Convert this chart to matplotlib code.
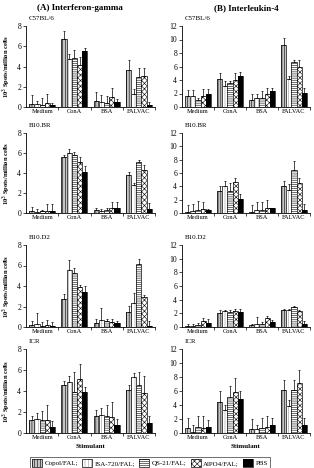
import matplotlib
matplotlib.use("Agg")
import matplotlib.pyplot as plt
import numpy as np
from matplotlib.patches import Patch

plt.rcParams["font.family"] = ["Liberation Serif", "DejaVu Serif"]
plt.rcParams["hatch.linewidth"] = 0.4

stimulants = ["Medium", "ConA", "BSA", "FALVAC"]
groups = ["Copol/FAL;", "ISA-720/FAL;", "QS-21/FAL;", "AlPO4/FAL;", "PBS"]
strains = ["C57BL/6", "B10.BR", "B10.D2", "ICR"]

# (A) interferon-gamma, rows = adjuvant group, cols = stimulant
ifn_c57 = [[0.25, 6.7, 0.6, 3.7], [0.3, 4.75, 0.5, 1.3], [0.2, 4.85, 0.35, 3.0],
           [0.35, 4.1, 0.95, 3.1], [0.2, 5.5, 0.45, 0.15]]
ifn_c57_err = [[0.95, 0.8, 0.85, 0.9], [0.3, 0.45, 0.7, 0.5], [0.65, 0.75, 0.75, 0.85],
               [0.95, 0.8, 0.95, 0.8], [0.2, 0.3, 0.3, 0.35]]
ifn_b10br = [[0.15, 5.6, 0.25, 3.75], [0.05, 6.0, 0.2, 2.8], [0.15, 5.8, 0.3, 5.05],
             [0.2, 5.1, 0.45, 4.3], [0.2, 4.1, 0.45, 0.35]]
ifn_b10br_err = [[0.45, 0.2, 0.2, 0.3], [0.35, 0.35, 0.2, 0.15], [0.15, 0.25, 0.2, 0.2],
                 [0.7, 0.5, 0.65, 0.5], [0.7, 0.6, 0.65, 0.6]]
ifn_b10d2 = [[0.15, 2.7, 0.35, 1.5], [0.25, 5.55, 0.7, 2.3], [0.1, 5.25, 0.55, 6.1],
             [0.15, 3.9, 0.5, 2.9], [0.1, 3.45, 0.35, 0.05]]
ifn_b10d2_err = [[0.4, 0.5, 0.45, 0.55], [1.1, 0.95, 1.15, 1.0], [0.35, 0.55, 0.2, 0.5],
                 [0.55, 0.2, 0.3, 0.2], [0.4, 0.55, 0.2, 0.5]]
ifn_icr = [[1.2, 4.55, 1.65, 4.1], [1.35, 4.9, 1.75, 5.3], [1.2, 3.95, 1.6, 4.55],
           [1.2, 5.1, 1.5, 3.85], [0.6, 3.9, 0.75, 1.0]]
ifn_icr_err = [[0.45, 0.45, 0.5, 0.5], [0.6, 0.5, 0.65, 0.45], [0.85, 1.85, 1.1, 1.3],
               [1.5, 1.5, 1.5, 1.55], [0.55, 0.45, 0.55, 0.6]]

# (B) interleukin-4
il4_c57 = [[1.6, 4.2, 1.1, 9.2], [1.6, 3.1, 1.4, 4.2], [1.0, 3.5, 1.4, 6.6],
           [1.6, 4.05, 1.9, 5.9], [2.0, 4.6, 2.3, 2.1]]
il4_c57_err = [[0.85, 0.8, 0.9, 1.0], [0.85, 0.7, 0.5, 0.4], [0.35, 0.4, 0.9, 0.4],
               [1.05, 1.05, 0.9, 1.0], [0.65, 0.65, 0.5, 0.7]]
il4_b10br = [[0.2, 3.3, 0.1, 4.0], [0.3, 4.1, 0.4, 3.5], [0.4, 3.3, 0.4, 6.4],
             [0.6, 4.6, 0.8, 4.5], [0.5, 2.1, 0.7, 0.5]]
il4_b10br_err = [[1.0, 0.7, 1.1, 0.8], [1.1, 0.7, 1.2, 0.8], [1.4, 1.2, 1.2, 1.4],
                 [1.0, 0.7, 1.1, 0.8], [0.1, 0.7, 0.1, 0.8]]
il4_b10d2 = [[0.2, 2.1, 0.25, 2.5], [0.15, 2.35, 0.4, 2.55], [0.3, 2.2, 0.5, 2.9],
             [0.85, 2.3, 1.25, 2.3], [0.55, 2.2, 0.7, 0.45]]
il4_b10d2_err = [[0.3, 0.35, 0.2, 0.2], [0.3, 0.15, 1.0, 0.1], [0.3, 0.25, 0.3, 0.2],
                 [0.45, 0.3, 0.35, 0.2], [0.65, 0.4, 0.3, 0.5]]
il4_icr = [[0.75, 4.5, 0.6, 6.2], [0.2, 3.3, 0.6, 3.9], [0.9, 5.1, 0.75, 6.2],
           [0.7, 5.8, 0.8, 7.1], [0.8, 4.9, 1.1, 1.1]]
il4_icr_err = [[1.45, 1.5, 1.45, 1.4], [1.0, 0.7, 0.5, 0.8], [1.5, 1.55, 1.45, 1.4],
               [1.7, 2.0, 1.7, 1.9], [1.0, 1.1, 1.1, 1.1]]

ifn_panels = [(ifn_c57, ifn_c57_err), (ifn_b10br, ifn_b10br_err),
              (ifn_b10d2, ifn_b10d2_err), (ifn_icr, ifn_icr_err)]
il4_panels = [(il4_c57, il4_c57_err), (il4_b10br, il4_b10br_err),
              (il4_b10d2, il4_b10d2_err), (il4_icr, il4_icr_err)]

# face colour, hatch, hatch colour for each group
styles = [("#c4c4c4", "||||||", "black"),
          ("white", "|||||", "#9a9a9a"),
          ("white", "--------", "black"),
          ("white", "xxxxxx", "black"),
          ("black", "", "black")]

W, H = 314, 468
fig = plt.figure(figsize=(W / 100, H / 100), dpi=100)

rows_px = [(26, 107), (133, 213), (245, 327), (349, 433)]
cols_px = [(26, 155), (182, 310)]


def draw_panel(ax, data, err, ymax, strain):
    x = np.arange(len(stimulants))
    w = 0.16
    for i, (fc, hatch, hc) in enumerate(styles):
        pos = x + (i - 2) * w
        vals = np.array(data[i])
        ax.bar(pos, vals, w, color=fc, hatch=hatch, edgecolor=hc, linewidth=0)
        ax.bar(pos, vals, w, fill=False, edgecolor="black", linewidth=0.5)
        ax.errorbar(pos, vals, yerr=[np.zeros(4), err[i]], fmt="none",
                    ecolor="black", elinewidth=0.5, capsize=1, capthick=0.5)
    ax.set_xlim(-0.5, 3.5)
    ax.set_ylim(0, ymax)
    ax.set_yticks(np.arange(0, ymax + 1, 2))
    ax.set_xticks([0.5, 1.5, 2.5, 3.5])
    ax.set_xticklabels([])
    ax.set_xticks(x, minor=True)
    ax.set_xticklabels(stimulants, minor=True, fontsize=4.6)
    ax.tick_params(axis="x", which="major", length=2.5, width=0.5, direction="out")
    ax.tick_params(axis="x", which="minor", length=0, pad=1.5)
    ax.tick_params(axis="y", length=2, width=0.5, labelsize=5.5, pad=1.5)
    for s in ["top", "right"]:
        ax.spines[s].set_visible(False)
    for s in ["left", "bottom"]:
        ax.spines[s].set_linewidth(0.6)
    ax.text(0.02, 1.06, strain, transform=ax.transAxes, fontsize=5,
            ha="left", va="bottom")


for c, (panels, ymax) in enumerate([(ifn_panels, 8), (il4_panels, 12)]):
    x0, x1 = cols_px[c]
    for r, (data, err) in enumerate(panels):
        top, bot = rows_px[r]
        ax = fig.add_axes([x0 / W, 1 - bot / H, (x1 - x0) / W, (bot - top) / H])
        draw_panel(ax, data, err, ymax, strains[r])
        if c == 0:
            ax.set_ylabel("10$^3$ Spots/million cells", fontsize=4.7,
                          fontweight="bold", labelpad=3)
        if r == 3:
            ax.set_xlabel("Stimulant", fontsize=5, fontweight="bold", labelpad=2)

fig.text(80 / W, 1 - 8 / H, "(A) Interferon-gamma", ha="center", va="center",
         fontsize=6.5, fontweight="bold")
fig.text(246 / W, 1 - 8 / H, "(B) Interleukin-4", ha="center", va="center",
         fontsize=6.5, fontweight="bold")

handles = []
for fc, hatch, hc in styles:
    handles.append((Patch(facecolor=fc, hatch=hatch, edgecolor=hc, linewidth=0),
                    Patch(fill=False, edgecolor="black", linewidth=0.5)))
leg = fig.legend(handles, groups, loc="center", bbox_to_anchor=(150 / W, 1 - 463 / H),
                 ncol=5, fontsize=5, frameon=True, fancybox=False,
                 handlelength=1.4, handleheight=1.4, handletextpad=0.4,
                 columnspacing=0.6, borderpad=0.3)
leg.get_frame().set_edgecolor("black")
leg.get_frame().set_linewidth(0.5)

fig.savefig("out.png", dpi=100)
